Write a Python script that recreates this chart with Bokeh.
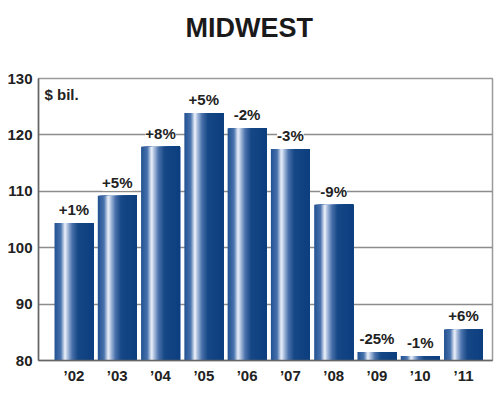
from bokeh.plotting import figure
from bokeh.models import ColumnDataSource, LabelSet, Label, Range1d, FixedTicker, Title
from bokeh.core.properties import value
from bokeh.embed import file_html
from bokeh.resources import INLINE

years = ["’02", "’03", "’04", "’05", "’06", "’07", "’08", "’09", "’10", "’11"]
values = [104.4, 109.2, 117.9, 123.9, 121.2, 117.5, 107.6, 81.5, 80.8, 85.5]
changes = ["+1%", "+5%", "+8%", "+5%", "-2%", "-3%", "-9%", "-25%", "-1%", "+6%"]
y_ticks = [80, 90, 100, 110, 120, 130]
title_text = "MIDWEST"
unit_text = "$ bil."

BASE = 80
BAR_W = 0.9
N_STRIPS = 40
stops = [(0.0, (0x22, 0x52, 0x92)), (0.16, (0x48, 0x72, 0xad)), (0.27, (0xf0, 0xf4, 0xfc)),
         (0.33, (0xb0, 0xc3, 0xe0)), (0.45, (0x4a, 0x72, 0xab)), (0.60, (0x16, 0x47, 0x86)),
         (1.0, (0x0d, 0x3f, 0x7f))]


def grad(f):
    for (a, ca), (b, cb) in zip(stops[:-1], stops[1:]):
        if a <= f <= b:
            t = (f - a) / (b - a)
            c = [round(ca[j] + (cb[j] - ca[j]) * t) for j in range(3)]
            return "#%02x%02x%02x" % tuple(c)
    return "#%02x%02x%02x" % stops[-1][1]


lefts, rights, tops, cols = [], [], [], []
for i, v in enumerate(values):
    for k in range(N_STRIPS):
        f = (k + 0.5) / N_STRIPS
        lefts.append(i - BAR_W / 2 + k * BAR_W / N_STRIPS)
        rights.append(i + BAR_W / 2)
        tops.append(v)
        cols.append(grad(f))

p = figure(width=496, height=396, output_backend="svg", toolbar_location=None,
           x_range=Range1d(-0.82, 9.67), y_range=Range1d(80, 130),
           min_border_left=38, min_border_top=78, min_border_bottom=36, min_border_right=4)
p.background_fill_color = "white"
p.border_fill_color = "white"
p.outline_line_color = "#9a9a9a"
p.outline_line_width = 1.5

# spacer between title and frame, then the title itself
p.add_layout(Title(text=" ", text_font_size="2px", standoff=21), "above")
p.add_layout(Title(text=title_text, align="left", offset=147,
                   text_font="Liberation Sans", text_font_style="bold",
                   text_font_size="27px", text_color="#1a1a1a", standoff=21), "above")

p.quad(left=lefts, right=rights, top=tops, bottom=BASE, fill_color=cols, line_color=None)

src = ColumnDataSource(dict(x=list(range(len(values))), y=values, t=changes))
p.add_layout(LabelSet(x="x", y="y", text="t", source=src, y_offset=5,
                      text_align="center", text_baseline="bottom",
                      text_font=value("Liberation Sans"), text_font_style="bold",
                      text_font_size="15px", text_color="#222222",
                      background_fill_color="white", border_line_color=None))

p.add_layout(Label(x=6, y=266, x_units="screen", y_units="screen", text=unit_text,
                   text_font="Liberation Sans", text_font_style="bold",
                   text_font_size="15px", text_color="#222222", text_baseline="middle"))

p.xgrid.grid_line_color = None
p.ygrid.grid_line_color = "#8c8c8c"
p.ygrid.grid_line_width = 1.5
p.yaxis.ticker = FixedTicker(ticks=y_ticks)
p.xaxis.ticker = FixedTicker(ticks=list(range(len(years))))
p.xaxis.major_label_overrides = {i: y for i, y in enumerate(years)}

for ax in (p.xaxis, p.yaxis):
    ax.major_tick_line_color = None
    ax.minor_tick_line_color = None
    ax.major_tick_out = 0
    ax.major_tick_in = 0
    ax.axis_line_color = "#666666"
    ax.axis_line_width = 1.5
    ax.major_label_text_font = "Liberation Sans"
    ax.major_label_text_font_style = "bold"
    ax.major_label_text_font_size = "15px"
    ax.major_label_text_color = "#222222"
p.yaxis.major_label_standoff = 6
p.xaxis.major_label_standoff = 6

open("out.html", "w").write(file_html(p, INLINE))
